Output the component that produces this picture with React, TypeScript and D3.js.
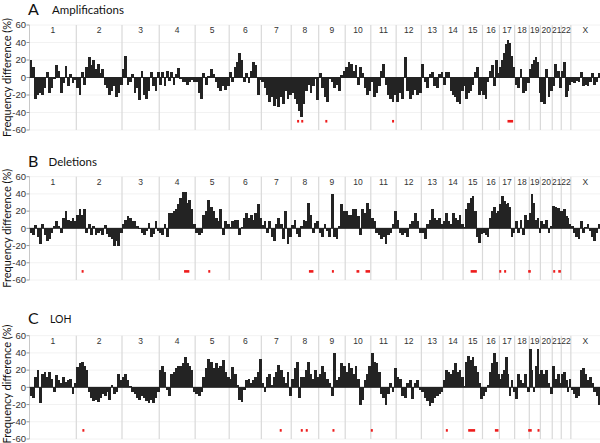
import React from "react";
import * as d3 from "d3";

const CHROMS = ["1","2","3","4","5","6","7","8","9","10","11","12","13","14","15","16","17","18","19","20","21","22","X"];
const CHROM_MB = [249,243,198,191,181,171,159,146,141,136,135,134,115,107,103,90,81,78,59,63,48,51,155];
const Y_TICKS = [60,40,20,0,-20,-40,-60];
const PANEL_LETTERS = ["A","B","C"];
const PANEL_TITLES = ["Amplifications","Deletions","LOH"];

const AMP_VALUES: number[][] = [
  [20,12,-24,-20,-18,-20,-12,6,-18,-12,0,14,8,-18,-6,13,-10,4,-6,-3],
  [-12,-20,6,-8,12,24,14,20,10,16,5,10,-8,-12,-20,-15,-10,-22,-18,-8],
  [10,25,-8,-5,4,-18,-12,-26,8,-20,-24,-15,6,-10,-15,6],
  [-8,6,-10,7,-4,6,-8,4,11,-2,-5,-5,-8,-5,-3,-5],
  [-5,-18,-25,5,-8,2,10,4,-5,-12,-15,-10,-14,-10],
  [6,-5,12,18,28,20,-5,5,-6,8,18,14,-20,-3],
  [-5,-12,-20,-28,-22,-33,-25,-34,-22,-30,-15,-25,-20],
  [-18,-24,-30,-38,-45,-30,-15,-8,-18,-10,-2,-26],
  [5,-12,-22,-28,0,-5,-12,-8,-15,3,8],
  [12,18,16,8,14,-8,12,5,-12,-20,-15],
  [-5,-22,-18,-10,8,16,-8,-20,-25,-28,-20],
  [-28,-18,-24,24,-15,-25,-20,-14,-20,-18],
  [16,-5,-12,4,6,-10,-12,4,6],
  [-8,6,6,-15,-20,-22,-28,-30,-15],
  [-10,-25,-18,-15,-8,6,12,-20,-15],
  [-20,-25,-5,8,14,-10,20,5],
  [12,20,28,38,43,40,25,12],
  [-8,-12,10,-18,-15,-6],
  [10,15,20,24,18,-18],
  [-28,-30,10,-22,-15],
  [-10,15,8,-12],
  [8,18,-22,-15,-8],
  [-5,-6,-4,-5,6,-10,-8,-10,-5,5,-8,-5,5],
];

const DEL_VALUES: number[][] = [
  [-5,-8,4,-10,-18,5,-8,-15,-12,-5,3,8,3,-5,12,20,10,8,12,8],
  [15,22,15,22,-5,5,-8,3,-8,-5,-3,-8,4,-6,-10,-12,-20,-15,-20,-5],
  [5,10,14,12,8,8,3,0,-5,-8,-3,6,-10,-6,8,-3],
  [-5,-8,5,-10,18,18,20,22,28,35,42,42,30,33,22,5],
  [-5,-8,-5,15,20,33,25,20,12,8,22,-8,8,5],
  [2,8,10,10,-8,2,12,18,12,15,10,18,28,12],
  [4,8,-5,8,-10,-15,5,12,5,-12,20,-18,-10],
  [4,10,-6,-10,3,10,8,30,15,-5,6,8],
  [-5,-10,5,-3,-10,40,-10,-12,3,28,20],
  [20,15,15,22,23,14,-8,22,18,30,22],
  [12,8,-5,-8,-12,-10,-18,-8,-5,5,20],
  [10,-5,-8,-5,-10,5,8,18,8,-5],
  [-5,-12,5,10,22,12,10,12,5],
  [8,18,8,5,18,12,10,15,5],
  [2,22,30,35,38,20,-10,-17,-6],
  [-5,-8,-10,12,20,25,18,20],
  [28,37,32,28,30,25,-10,-5],
  [8,-5,10,-8,15,10],
  [18,40,30,10,12,-5],
  [8,5,10,-5,3],
  [26,25,24,20],
  [20,22,14,12,5],
  [3,-5,-10,-12,8,-5,2,5,-3,-10,-15,-5,5],
];

const LOH_VALUES: number[][] = [
  [-10,-12,12,20,-18,15,18,12,18,10,-5,14,8,5,12,6,8,10,-8,5],
  [24,28,30,25,20,-5,-12,-16,-15,-17,-12,-8,-10,-5,-15,3,-8,-5,15,8],
  [12,15,8,2,-5,-8,-12,-15,-10,-12,-16,-18,-15,-18,-12,-5],
  [20,25,18,-3,-10,15,18,22,25,25,28,35,28,25,20,-5],
  [-8,-10,-5,12,22,33,30,22,28,22,25,32,18,12],
  [10,24,15,3,-15,-17,-3,8,10,5,8,12,18,33],
  [5,-5,12,15,3,12,18,26,20,12,5,18,-10],
  [10,22,29,-12,12,12,20,30,15,10,20,12],
  [15,25,18,10,5,-10,40,8,12,28,25],
  [18,28,22,15,25,10,-20,-15,8,15,25],
  [40,30,28,18,-8,-12,-20,-8,5,-5,22],
  [12,10,-10,-12,5,8,-14,5,8,-3],
  [-5,-12,-16,-22,-18,-12,-10,-8,-5],
  [8,20,18,15,20,28,18,20,12],
  [2,30,36,32,35,25,18,5,-14],
  [-10,-5,3,18,28,40,30,15],
  [10,15,20,35,15,-10,8,-5],
  [-14,15,8,5,15,-5],
  [45,20,-5,25,45,15],
  [20,15,20,5,-8],
  [25,10,15,5],
  [15,18,8,-5,10],
  [-3,-8,-12,-10,20,22,15,8,12,5,-5,-10,-20],
];

const AMP_MARKS: [number, number][] = [[1425,1432],[1446,1455],[1577,1580],[1932,1935],[2542,2572]];
const DEL_MARKS: [number, number][] = [[281,284],[822,850],[955,957],[1486,1510],[1612,1615],[1739,1754],[1787,1811],[2346,2379],[2502,2505],[2528,2531],[2652,2666],[2789,2792],[2812,2826]];
const LOH_MARKS: [number, number][] = [[285,288],[1331,1341],[1447,1449],[1473,1476],[1615,1618],[1819,1822],[2218,2221],[2333,2370],[2475,2494],[2652,2671],[2702,2712]];

const PANEL_VALUES = [AMP_VALUES, DEL_VALUES, LOH_VALUES];
const PANEL_MARKS = [AMP_MARKS, DEL_MARKS, LOH_MARKS];

const W = 600;
const H = 443;
const PLOT_LEFT = 29.5;
const PLOT_RIGHT = 600;
const PANEL_Y = [
  { top: 25, bottom: 130, title: 14, labelY: 77.5 },
  { top: 176.7, bottom: 280, title: 166, labelY: 228.3 },
  { top: 335.7, bottom: 439, title: 323, labelY: 384 },
];

const starts: number[] = [];
{
  let acc = 0;
  for (const m of CHROM_MB) { starts.push(acc); acc += m; }
}
const TOTAL = d3.sum(CHROM_MB);

export default function App() {
  const x = d3.scaleLinear().domain([0, TOTAL]).range([PLOT_LEFT, PLOT_RIGHT]);
  return (
    <svg width={W} height={H} style={{ position: "absolute", left: 0, top: 0, background: "#fff" }}>
      {PANEL_Y.map((p, pi) => {
        const y = d3.scaleLinear().domain([-60, 60]).range([p.bottom, p.top]);
        const values = PANEL_VALUES[pi];
        const marks = PANEL_MARKS[pi];
        return (
          <g key={pi}>
            {Y_TICKS.filter(t => t !== 0).map(t => (
              <line key={"g" + t} x1={PLOT_LEFT} x2={PLOT_RIGHT} y1={y(t)} y2={y(t)} stroke="#f2f2f2" strokeWidth={1} />
            ))}
            {starts.slice(1).map((s, i) => (
              <line key={"s" + i} x1={x(s)} x2={x(s)} y1={y(60)} y2={y(-60)} stroke="#d9d9d9" strokeWidth={1.2} />
            ))}
            <line x1={PLOT_LEFT} x2={PLOT_LEFT} y1={y(60)} y2={y(-60)} stroke="#c8c8c8" strokeWidth={1} />
            {Y_TICKS.map(t => (
              <g key={"t" + t}>
                <line x1={PLOT_LEFT - 3} x2={PLOT_LEFT} y1={y(t)} y2={y(t)} stroke="#999" strokeWidth={1} />
                <text x={PLOT_LEFT - 3.5} y={y(t)} dy="0.35em" textAnchor="end" fontFamily="Liberation Sans, Arial, sans-serif" fontSize={9.5} fill="#333">{t}</text>
              </g>
            ))}
            {CHROMS.map((c, i) => (
              <text key={"c" + c} x={x(starts[i] + CHROM_MB[i] / 2)} y={y(60) + 5.5} dy="0.35em" textAnchor="middle" fontFamily="Liberation Sans, Arial, sans-serif" fontSize={8.5} fill="#333">{c}</text>
            ))}
            <g shapeRendering="crispEdges">
              {values.map((arr, ci) => {
                const w = CHROM_MB[ci] / arr.length;
                return arr.map((v, bi) => {
                  const x0 = x(starts[ci] + bi * w);
                  const x1 = x(starts[ci] + (bi + 1) * w);
                  const ya = y(Math.max(v, 0));
                  const yb = y(Math.min(v, 0));
                  return <rect key={ci + "-" + bi} x={x0} y={ya} width={x1 - x0 + 0.5} height={Math.max(yb - ya, 1)} fill="#232323" />;
                });
              })}
            </g>
            <line x1={PLOT_LEFT} x2={PLOT_RIGHT} y1={y(0)} y2={y(0)} stroke="#232323" strokeWidth={1} />
            {marks.map((m, mi) => {
              const x0 = x(m[0]);
              const x1 = x(m[1]);
              const wd = Math.max(x1 - x0, 2);
              return <rect key={"m" + mi} x={(x0 + x1) / 2 - wd / 2} y={y(-50) - 1.3} width={wd} height={2.6} fill="#ee1c1c" />;
            })}
            <text x={28} y={p.title + 1} fontFamily="Lato, Open Sans, sans-serif" fontSize={16} fill="#111">{PANEL_LETTERS[pi]}</text>
            <text x={pi === 0 ? 52 : pi === 1 ? 48.5 : 50} y={p.title} fontFamily="Lato, Open Sans, sans-serif" fontSize={pi === 2 ? 10.5 : 11.5} fill="#111">{PANEL_TITLES[pi]}</text>
            <text transform={`translate(7,${p.labelY}) rotate(-90)`} textAnchor="middle" dy="0.35em" fontFamily="Lato, Open Sans, sans-serif" fontSize={11} fill="#111">Frequency difference (%)</text>
          </g>
        );
      })}
    </svg>
  );
}
